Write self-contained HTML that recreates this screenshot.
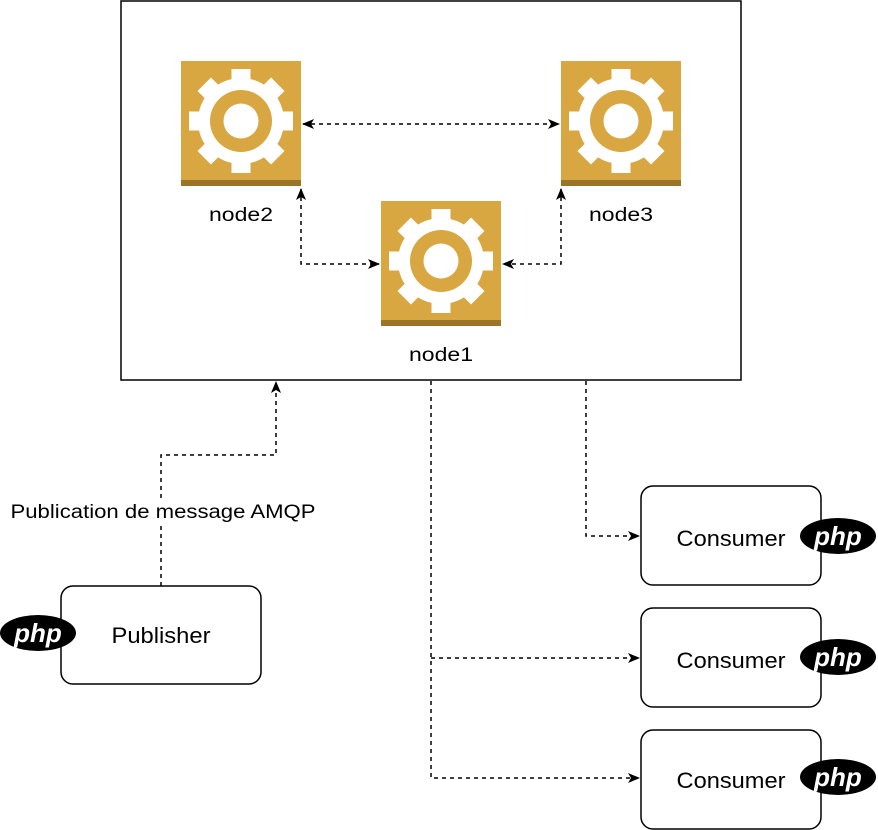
<!DOCTYPE html>
<html><head><meta charset="utf-8"><style>
html,body{margin:0;padding:0;background:#fff;}
svg{display:block;}
text{font-family:"Liberation Sans",Arial,sans-serif;}
</style></head><body>
<svg width="878" height="830" viewBox="0 0 878 830" xmlns="http://www.w3.org/2000/svg">
<defs>
<marker id="a" viewBox="0 0 12 10" refX="11" refY="5" markerWidth="12" markerHeight="10" markerUnits="userSpaceOnUse" orient="auto-start-reverse">
<path d="M0,0 L12,5 L0,10 L3,5 Z" fill="#000"/>
</marker>
<g id="gear">
<rect x="0" y="0" width="120" height="125" fill="#D9A741"/>
<rect x="0" y="119" width="120" height="6" fill="#997429"/>
<g fill="#fff" transform="translate(60,60)">
<circle r="43"/>
<g id="t"><rect x="-9.5" y="-52" width="19" height="14"/><rect x="-9.5" y="38" width="19" height="14"/></g>
<use href="#t" transform="rotate(45)"/>
<use href="#t" transform="rotate(90)"/>
<use href="#t" transform="rotate(135)"/>
<circle r="31" fill="#D9A741"/>
<circle r="17.5" fill="#fff"/>
</g>
</g>
<g id="php">
<ellipse cx="0" cy="0" rx="38" ry="18" fill="#000"/>
<text x="0" y="9" text-anchor="middle" font-size="26" font-weight="bold" font-style="italic" fill="#fff">php</text>
</g>
</defs>

<rect x="121" y="1" width="620" height="379" fill="#fff" stroke="#000" stroke-width="1.5"/>

<use href="#gear" x="181" y="61"/>
<use href="#gear" x="561" y="61"/>
<use href="#gear" x="381" y="201"/>

<g font-size="19" text-anchor="middle" fill="#000">
<text x="241" y="221" textLength="64" lengthAdjust="spacingAndGlyphs">node2</text>
<text x="621" y="221" textLength="64" lengthAdjust="spacingAndGlyphs">node3</text>
<text x="441" y="361" textLength="64" lengthAdjust="spacingAndGlyphs">node1</text>
</g>

<g fill="none" stroke="#000" stroke-width="1.5" stroke-dasharray="4,4">
<path d="M303,124 L559,124" marker-start="url(#a)" marker-end="url(#a)"/>
<path d="M301,189 L301,264 L379,264" marker-start="url(#a)" marker-end="url(#a)"/>
<path d="M561,189 L561,264 L503,264" marker-start="url(#a)" marker-end="url(#a)"/>
<path d="M161,586 L161,455 L276,455 L276,382" marker-end="url(#a)"/>
<path d="M586,381 L586,536 L639,536" marker-end="url(#a)"/>
<path d="M431,381 L431,778 L639,778" marker-end="url(#a)"/>
<path d="M431,658 L639,658" marker-end="url(#a)"/>
</g>

<rect x="8" y="498" width="312" height="26" fill="#fff"/>
<text x="163" y="518" font-size="19" text-anchor="middle" textLength="305" lengthAdjust="spacingAndGlyphs">Publication de message AMQP</text>

<rect x="61" y="586" width="200" height="98" rx="12" fill="#fff" stroke="#000" stroke-width="1.5"/>
<text x="161" y="643" font-size="22" text-anchor="middle" textLength="99" lengthAdjust="spacingAndGlyphs">Publisher</text>
<use href="#php" x="38" y="633"/>

<g font-size="22" text-anchor="middle">
<rect x="641" y="486" width="180" height="99" rx="12" fill="#fff" stroke="#000" stroke-width="1.5"/>
<text x="731" y="546" textLength="109" lengthAdjust="spacingAndGlyphs">Consumer</text>
<rect x="641" y="608" width="180" height="99" rx="12" fill="#fff" stroke="#000" stroke-width="1.5"/>
<text x="731" y="668" textLength="109" lengthAdjust="spacingAndGlyphs">Consumer</text>
<rect x="641" y="730" width="180" height="99" rx="12" fill="#fff" stroke="#000" stroke-width="1.5"/>
<text x="731" y="788" textLength="109" lengthAdjust="spacingAndGlyphs">Consumer</text>
</g>
<use href="#php" x="838" y="536"/>
<use href="#php" x="838" y="657"/>
<use href="#php" x="838" y="777"/>
</svg>
</body></html>
